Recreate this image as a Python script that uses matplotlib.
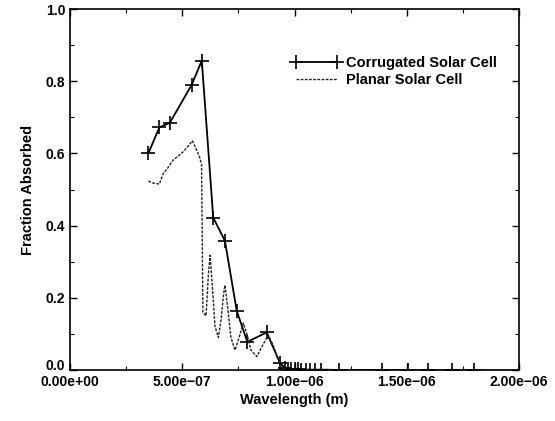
import matplotlib
matplotlib.use("Agg")
import matplotlib.pyplot as plt
import matplotlib.transforms as mtransforms
from matplotlib.ticker import MultipleLocator, FuncFormatter

# Corrugated solar cell (with + markers)
corr_wl = [3.49e-7, 3.98e-7, 4.45e-7, 5.42e-7, 5.87e-7, 6.38e-7, 6.90e-7, 7.43e-7,
           7.90e-7, 8.76e-7, 9.35e-7, 9.58e-7, 9.70e-7, 9.85e-7, 1.00e-6, 1.015e-6,
           1.03e-6, 1.05e-6, 1.07e-6, 1.09e-6, 1.12e-6, 1.20e-6, 1.39e-6, 1.505e-6,
           1.595e-6, 1.70e-6, 1.80e-6]
corr_abs = [0.600, 0.672, 0.685, 0.790, 0.857, 0.422, 0.358, 0.163,
            0.078, 0.104, 0.020, 0.005, 0.004, 0.003, 0.002, 0.002,
            0.001, 0.001, 0.001, 0.001, 0.001, 0.0, 0.0, 0.0,
            0.0, 0.0, 0.0]

# Planar solar cell
plan_wl = [3.49e-7, 3.70e-7, 3.98e-7, 4.16e-7, 4.36e-7, 4.60e-7, 4.81e-7, 5.05e-7,
           5.26e-7, 5.45e-7, 5.64e-7, 5.77e-7, 5.86e-7, 5.92e-7, 6.06e-7, 6.17e-7,
           6.24e-7, 6.32e-7, 6.46e-7, 6.61e-7, 6.73e-7, 6.84e-7, 6.90e-7, 7.01e-7,
           7.17e-7, 7.35e-7, 7.53e-7, 7.72e-7, 7.88e-7, 8.06e-7, 8.32e-7, 8.55e-7,
           8.83e-7, 9.04e-7, 9.26e-7, 9.49e-7, 9.80e-7, 1.20e-6, 1.50e-6, 2.00e-6]
plan_abs = [0.523, 0.518, 0.515, 0.545, 0.560, 0.582, 0.592, 0.605,
            0.620, 0.635, 0.610, 0.590, 0.570, 0.160, 0.150, 0.270,
            0.318, 0.250, 0.120, 0.090, 0.140, 0.210, 0.235, 0.180,
            0.090, 0.055, 0.090, 0.130, 0.100, 0.055, 0.037, 0.065,
            0.097, 0.070, 0.030, 0.005, 0.0, 0.0, 0.0, 0.0]

xticks = [0.0, 5e-7, 1e-6, 1.5e-6, 2e-6]
yticks = [0.0, 0.2, 0.4, 0.6, 0.8, 1.0]

plt.rcParams['font.family'] = ['Liberation Sans', 'DejaVu Sans']
plt.rcParams['font.weight'] = 'bold'

fig = plt.figure(figsize=(5.55, 4.21), dpi=100)
ax = fig.add_axes([70/555, 1-370/421, (519-70)/555, (370-9)/421])

ax.plot(corr_wl, corr_abs, color='black', lw=1.3, marker='+', ms=10, mew=1.2,
        label='Corrugated Solar Cell')
ax.plot(plan_wl, plan_abs, color='#222222', lw=1.0, ls=(0, (2, 1)),
        label='Planar Solar Cell')

ax.set_xlim(0, 2e-6)
ax.set_ylim(0, 1.0)
ax.set_xticks(xticks)
ax.set_yticks(yticks)
ax.xaxis.set_minor_locator(MultipleLocator(2.5e-7))
ax.yaxis.set_minor_locator(MultipleLocator(0.1))
ax.xaxis.set_major_formatter(FuncFormatter(lambda v, p: ('%.2e' % v).replace('-', '\u2212')))
ax.yaxis.set_major_formatter(FuncFormatter(lambda v, p: '%.1f' % v))
ax.tick_params(which='both', direction='in', top=True, right=True, labelsize=10)
ax.tick_params(which='major', length=5, width=1)
ax.tick_params(which='minor', length=3, width=0.8)
for s in ax.spines.values():
    s.set_linewidth(1.2)

ax.set_xlabel('Wavelength (m)', fontsize=10.5, fontweight='bold', labelpad=3)
ax.set_ylabel('Fraction Absorbed', fontsize=10.5, fontweight='bold', labelpad=8)

ax.legend(loc='upper right', bbox_to_anchor=(0.98, 0.905), frameon=False,
          prop={'size': 10.5, 'weight': 'bold'},
          numpoints=2, handlelength=3.4, handletextpad=0.3, labelspacing=0.2)

# raise the 0.0 label a little, as in the reference
fig.canvas.draw()
lbl0 = ax.yaxis.get_majorticklabels()[0]
lbl0.set_transform(lbl0.get_transform() + mtransforms.ScaledTranslation(0, 5/100, fig.dpi_scale_trans))

fig.savefig('out.png', dpi=100)
